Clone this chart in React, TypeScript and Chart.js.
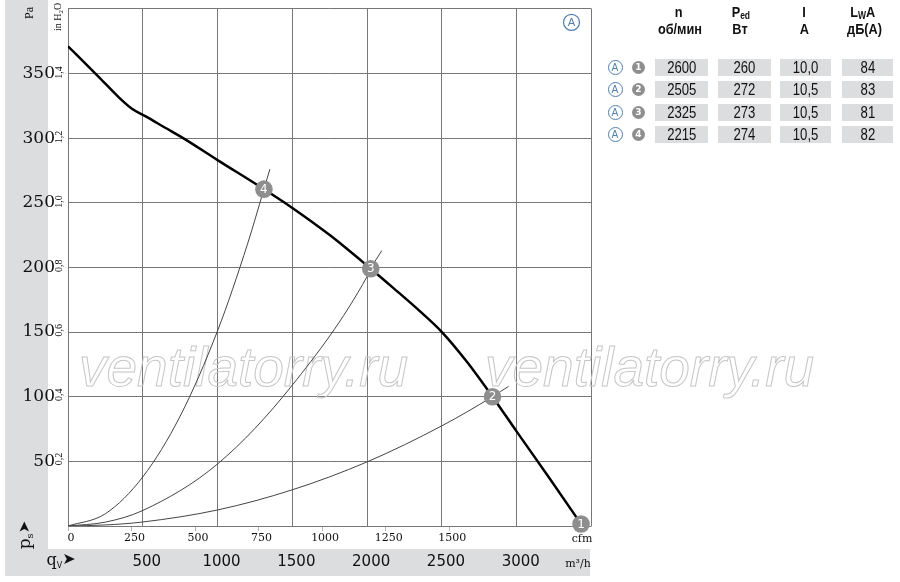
import React, { useEffect, useRef } from "react";
import { Chart, registerables } from "chart.js";

Chart.register(...registerables);

// ---- chart data (m³/h, Pa) ----
const fanFlow = [0, 200, 340, 430, 520, 650, 770, 1000, 1310, 1500, 1750, 2024, 2176, 2354, 2500, 2667, 2838, 3000, 3225, 3430];
const fanPressure = [371, 348, 331.5, 322.5, 316.8, 308, 300, 283, 260.5, 246, 225, 199, 184, 166, 150, 127, 100, 73, 36, 1.5];

const sys4Flow = [0, 250, 500, 750, 1000, 1200, 1310, 1350];
const sys4Pressure = [0, 9.5, 38, 85, 151, 218, 260.5, 276];
const sys3Flow = [0, 250, 500, 1000, 1500, 2000, 2024, 2098];
const sys3Pressure = [0, 3, 12, 48, 109, 193, 199, 213];
const sys2Flow = [0, 250, 500, 1000, 1500, 2000, 2500, 2838, 2945];
const sys2Pressure = [0, 0.8, 3.1, 12.4, 28, 49.6, 77.5, 100, 108];

const opFlow = [3430, 2838, 2024, 1310];
const opPressure = [1.5, 100, 199, 260.5];
const opLabels = ["1", "2", "3", "4"];

// ---- axis ticks ----
const paLabels = [50, 100, 150, 200, 250, 300, 350];
const inH2OValues = [0.2, 0.4, 0.6, 0.8, 1.0, 1.2, 1.4];
const inH2OLabels = ["0,2", "0,4", "0,6", "0,8", "1,0", "1,2", "1,4"];
const m3hLabels = [500, 1000, 1500, 2000, 2500, 3000];
const cfmTicks = [0, 250, 500, 750, 1000, 1250, 1500];

// ---- table ----
const rowNums = ["1", "2", "3", "4"];
const rpm = ["2600", "2505", "2325", "2215"];
const power = ["260", "272", "273", "274"];
const current = ["10,0", "10,5", "10,5", "10,5"];
const noise = ["84", "83", "81", "82"];

const PA_PER_INH2O = 249.089;
const M3H_PER_CFM = 1.69901;

const GRAY_BAND = "#dcdddf";
const MARK_GRAY = "#8e8e8e";
const A_BLUE = "#4f7fae";

type Part = { t: string; font: string; dy?: number };

function rich(ctx: CanvasRenderingContext2D, cx: number, cy: number, angle: number, parts: Part[], color: string) {
  ctx.save();
  ctx.translate(cx, cy);
  ctx.rotate(angle);
  ctx.textBaseline = "alphabetic";
  ctx.textAlign = "left";
  ctx.fillStyle = color;
  let total = 0;
  for (const p of parts) {
    ctx.font = p.font;
    total += ctx.measureText(p.t).width;
  }
  let x = -total / 2;
  for (const p of parts) {
    ctx.font = p.font;
    ctx.fillText(p.t, x, p.dy || 0);
    x += ctx.measureText(p.t).width;
  }
  ctx.restore();
}

const decorPlugin = {
  id: "decor",
  beforeDraw(chart: any) {
    const ctx: CanvasRenderingContext2D = chart.ctx;
    ctx.save();
    ctx.fillStyle = "#ffffff";
    ctx.fillRect(0, 0, chart.width, chart.height);
    ctx.fillStyle = GRAY_BAND;
    ctx.fillRect(5, 0, 43, 549);
    ctx.fillRect(5, 549, 585, 27);
    ctx.restore();
  },
  beforeDatasetsDraw(chart: any) {
    const ctx: CanvasRenderingContext2D = chart.ctx;
    ctx.save();
    ctx.font = 'italic 55px "Liberation Sans"';
    ctx.strokeStyle = "#c6c6c6";
    ctx.lineWidth = 1;
    ctx.textBaseline = "alphabetic";
    ctx.strokeText("ventilatorry.ru", 79, 386);
    ctx.strokeText("ventilatorry.ru", 485, 386);
    ctx.restore();
  },
  afterDraw(chart: any) {
    const ctx: CanvasRenderingContext2D = chart.ctx;
    const y = chart.scales.y;
    ctx.save();
    inH2OValues.forEach((v, i) => {
      const py = y.getPixelForValue(v * PA_PER_INH2O);
      rich(ctx, 62, py - 2.5, -Math.PI / 2, [{ t: inH2OLabels[i], font: '10px "Liberation Serif"' }], "#111");
    });
    rich(ctx, 33, 13, -Math.PI / 2, [{ t: "Pa", font: '12px "Liberation Serif"' }], "#111");
    rich(ctx, 61, 17, -Math.PI / 2, [
      { t: "in H", font: '10px "Liberation Serif"' },
      { t: "2", font: '7px "Liberation Serif"', dy: 2 },
      { t: "O", font: '10px "Liberation Serif"' },
    ], "#111");
    rich(ctx, 30, 535, -Math.PI / 2, [
      { t: "p", font: '17px "DejaVu Serif"' },
      { t: "s", font: '10px "DejaVu Serif"', dy: 3 },
      { t: "\u27A4", font: '15px "DejaVu Sans"', dy: -1 },
    ], "#111");
    rich(ctx, 61, 565, 0, [
      { t: "q", font: '16px "DejaVu Serif"' },
      { t: "V", font: '8px "DejaVu Sans"', dy: 3 },
      { t: "\u27A4", font: '16px "DejaVu Sans"', dy: -1 },
    ], "#111");
    rich(ctx, 578, 567, 0, [{ t: "m\u00B3/h", font: '11px "DejaVu Serif"' }], "#111");
    rich(ctx, 582, 541.5, 0, [{ t: "cfm", font: '11px "DejaVu Serif"' }], "#111");

    ctx.beginPath();
    ctx.arc(571.5, 22.3, 8, 0, Math.PI * 2);
    ctx.strokeStyle = A_BLUE;
    ctx.lineWidth = 1.2;
    ctx.stroke();
    ctx.fillStyle = A_BLUE;
    ctx.font = '11px "DejaVu Sans"';
    ctx.textAlign = "center";
    ctx.textBaseline = "middle";
    ctx.fillText("A", 571.5, 23);

    const meta = chart.getDatasetMeta(0);
    ctx.fillStyle = "#ffffff";
    ctx.font = '12px "DejaVu Sans"';
    meta.data.forEach((el: any, i: number) => {
      ctx.fillText(opLabels[i], el.x, el.y + 0.5);
    });
    ctx.restore();
  },
};

const xy = (xs: number[], ys: number[]) => xs.map((x, i) => ({ x, y: ys[i] }));

const noPadX = (h: number) => (s: any) => {
  s.height = h;
  s.paddingLeft = 0;
  s.paddingRight = 0;
  s.paddingTop = 0;
  s.paddingBottom = 0;
};

function ChartCanvas() {
  const ref = useRef<HTMLCanvasElement | null>(null);
  useEffect(() => {
    if (!ref.current) return;
    const line = (xs: number[], ys: number[], color: string, width: number) => ({
      data: xy(xs, ys),
      borderColor: color,
      borderWidth: width,
      pointRadius: 0,
      cubicInterpolationMode: "monotone",
      xAxisID: "x",
      yAxisID: "y",
    });
    const chart = new Chart(ref.current, {
      type: "line",
      data: {
        datasets: [
          {
            data: xy(opFlow, opPressure),
            showLine: false,
            clip: false,
            pointRadius: 8.8,
            pointHoverRadius: 8.8,
            pointBackgroundColor: MARK_GRAY,
            pointBorderWidth: 0,
            xAxisID: "x",
            yAxisID: "y",
          },
          line(fanFlow, fanPressure, "#000000", 2.5),
          line(sys4Flow, sys4Pressure, "#444444", 1),
          line(sys3Flow, sys3Pressure, "#444444", 1),
          line(sys2Flow, sys2Pressure, "#444444", 1),
        ],
      },
      options: {
        responsive: false,
        animation: false,
        events: [],
        layout: { padding: { left: 0, top: 4, right: 308.5, bottom: 0 } },
        plugins: { legend: { display: false }, tooltip: { enabled: false } },
        scales: {
          x: {
            type: "linear",
            position: "bottom",
            weight: 1,
            min: 0,
            max: 3500,
            grid: { color: "#777777", lineWidth: 1, drawTicks: false },
            border: { display: false },
            ticks: {
              stepSize: 500,
              autoSkip: false,
              maxRotation: 0,
              padding: 1,
              labelOffset: 4,
              color: "#111111",
              font: { family: "DejaVu Sans", size: 15 },
              callback: (v: any) => (m3hLabels.includes(Number(v)) ? String(v) : ""),
            },
            afterFit: noPadX(30),
          },
          x2: {
            type: "linear",
            position: "bottom",
            weight: 0,
            min: 0,
            max: 3500 / M3H_PER_CFM,
            grid: { drawOnChartArea: false, drawTicks: true, tickLength: 5, color: "#b5b5b5" },
            border: { display: false },
            afterBuildTicks: (s: any) => {
              s.ticks = cfmTicks.map((v) => ({ value: v }));
            },
            ticks: {
              autoSkip: false,
              maxRotation: 0,
              padding: 1,
              labelOffset: 3,
              color: "#111111",
              font: { family: "DejaVu Serif", size: 11 },
              callback: (v: any) => String(v),
            },
            afterFit: noPadX(26),
          },
          y: {
            type: "linear",
            position: "left",
            min: 0,
            max: 400,
            grid: { color: "#777777", lineWidth: 1, drawTicks: false },
            border: { display: false },
            ticks: {
              stepSize: 50,
              padding: 13,
              color: "#111111",
              font: { family: "DejaVu Serif", size: 17 },
              callback: (v: any) => (paLabels.includes(Number(v)) ? String(v) : ""),
            },
            afterFit: (s: any) => {
              s.width = 68;
              s.paddingTop = 0;
              s.paddingBottom = 0;
              s.paddingLeft = 0;
              s.paddingRight = 0;
            },
          },
        },
      },
      plugins: [decorPlugin],
    } as any);
    return () => chart.destroy();
  }, []);
  return <canvas ref={ref} width={900} height={582} style={{ width: 900, height: 582, display: "block" }} />;
}

const colCenters = [681.5, 744.5, 805.5, 867.5];
const colWidths = [53, 53, 51, 51];
const rowCenters = [67, 89.5, 112, 134.5];
const sans = "'Liberation Sans', Arial, sans-serif";

function Squeeze({ children, sx }: { children: React.ReactNode; sx: number }) {
  return <span style={{ display: "inline-block", transform: `scaleX(${sx})`, transformOrigin: "center" }}>{children}</span>;
}

function Table() {
  const cols = [rpm, power, current, noise];
  const headStyle = (cx: number, cy: number): React.CSSProperties => ({
    position: "absolute",
    left: cx - 40,
    width: 80,
    top: cy - 9,
    height: 18,
    lineHeight: "18px",
    textAlign: "center",
    fontFamily: sans,
    fontWeight: "bold",
    fontSize: 15,
    color: "#111",
    whiteSpace: "nowrap",
  });
  return (
    <>
      <div style={headStyle(679, 12)}><Squeeze sx={0.85}>n</Squeeze></div>
      <div style={headStyle(680, 29)}><Squeeze sx={0.85}>об/мин</Squeeze></div>
      <div style={headStyle(741, 12)}>
        <Squeeze sx={0.85}>P<sub style={{ fontSize: 10, verticalAlign: "-2px" }}>ed</sub></Squeeze>
      </div>
      <div style={headStyle(740, 29)}><Squeeze sx={0.85}>Вт</Squeeze></div>
      <div style={headStyle(804, 12)}><Squeeze sx={0.85}>I</Squeeze></div>
      <div style={headStyle(804, 29)}><Squeeze sx={0.85}>A</Squeeze></div>
      <div style={headStyle(863, 12)}>
        <Squeeze sx={0.85}>L<sub style={{ fontSize: 10, verticalAlign: "-2px" }}>W</sub>A</Squeeze>
      </div>
      <div style={headStyle(865, 29)}><Squeeze sx={0.85}>дБ(A)</Squeeze></div>
      {rowCenters.map((cy, r) => (
        <React.Fragment key={r}>
          <div
            style={{
              position: "absolute",
              left: 615 - 7.5,
              top: cy - 7.5,
              width: 13,
              height: 13,
              borderRadius: "50%",
              border: `1px solid ${A_BLUE}`,
              color: A_BLUE,
              fontFamily: "'DejaVu Sans', sans-serif",
              fontSize: 10,
              lineHeight: "13px",
              textAlign: "center",
            }}
          >
            A
          </div>
          <div
            style={{
              position: "absolute",
              left: 638.5 - 6.5,
              top: cy - 6.5,
              width: 13,
              height: 13,
              borderRadius: "50%",
              background: MARK_GRAY,
              color: "#fff",
              fontFamily: "'DejaVu Sans', sans-serif",
              fontWeight: "bold",
              fontSize: 9,
              lineHeight: "13px",
              textAlign: "center",
            }}
          >
            {rowNums[r]}
          </div>
          {cols.map((col, c) => (
            <div
              key={c}
              style={{
                position: "absolute",
                left: colCenters[c] - colWidths[c] / 2,
                width: colWidths[c],
                top: cy - 8.5,
                height: 17,
                lineHeight: "17px",
                background: GRAY_BAND,
                textAlign: "center",
                fontFamily: sans,
                fontSize: 16,
                color: "#111",
              }}
            >
              <Squeeze sx={0.82}>{col[r]}</Squeeze>
            </div>
          ))}
        </React.Fragment>
      ))}
    </>
  );
}

export default function App() {
  return (
    <div style={{ position: "absolute", left: 0, top: 0, width: 900, height: 582, background: "#fff", overflow: "hidden" }}>
      <ChartCanvas />
      <Table />
    </div>
  );
}
